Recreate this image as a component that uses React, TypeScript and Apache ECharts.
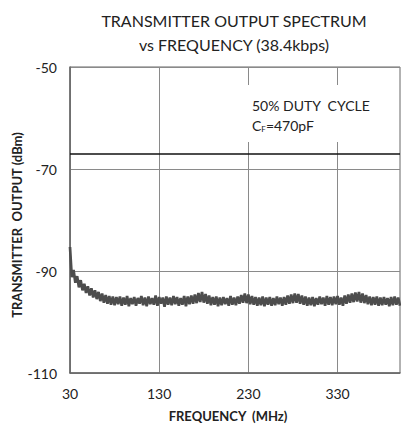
import React, { useEffect, useRef } from "react";
import * as echarts from "echarts";

const TITLE_LINES = ["TRANSMITTER OUTPUT SPECTRUM", "vs FREQUENCY (38.4kbps)"];
const X_TICKS = [30, 130, 230, 330];
const Y_TICKS = [-110, -90, -70, -50];
const X_NAME = "FREQUENCY  (MHz)";
const Y_NAME = "TRANSMITTER  OUTPUT (dBm)";
const NOTE_LINE1 = "50% DUTY  CYCLE";
const LIMIT_DBM = -67;

// sweep: 30 MHz to 400 MHz, 2 MHz per reading
const FREQ_START = 30;
const FREQ_STEP = 2;
const OUTPUT_DBM = [
  -85.3, -91.2, -89.8, -92.3, -91.0, -93.2, -91.8, -93.8, -92.5, -94.3,
  -93.0, -94.8, -93.4, -95.2, -93.8, -95.5, -94.1, -95.9, -94.4, -96.2,
  -94.7, -96.4, -94.9, -96.6, -95.0, -96.7, -95.1, -96.5, -95.0, -96.8,
  -95.2, -96.6, -94.9, -96.9, -95.3, -96.5,
  -95.1, -96.8, -95.3, -96.4, -94.9, -96.7, -95.2, -96.9, -95.0, -96.5,
  -95.3, -96.6, -94.8, -96.8, -95.1, -96.4, -95.2, -97.0, -95.0, -96.6,
  -95.2, -96.7, -94.9, -96.5, -95.1, -96.8, -95.3, -96.6, -94.9, -96.9,
  -95.0, -96.5, -94.8, -96.4, -94.6, -96.3, -94.3, -96.1, -94.1, -96.2,
  -94.5, -96.4, -94.8, -96.7, -95.1, -96.6, -95.0, -96.9, -95.2, -96.7,
  -95.1, -96.5, -95.3, -96.8, -94.9, -96.6, -95.2, -96.7, -95.0, -96.4,
  -94.7, -96.2, -94.4, -96.3, -94.6, -96.5, -94.9, -96.6, -95.1, -96.8,
  -95.2, -96.7, -95.0, -96.9, -95.2, -96.6, -95.1, -96.8, -95.3, -96.7,
  -95.0, -96.5, -95.2, -96.8, -95.1, -96.6, -94.8, -96.4, -94.6, -96.3,
  -94.4, -96.2, -94.5, -96.4, -94.8, -96.6, -95.0, -96.8, -95.2, -96.7,
  -95.1, -96.9, -95.3, -96.6, -95.0, -96.5, -95.2, -96.8, -94.9, -96.6,
  -95.1, -96.7, -95.0, -96.5, -94.9, -96.6, -95.2, -96.8, -94.8, -96.4,
  -94.6, -96.2, -94.4, -96.1, -94.2, -96.0, -94.1, -96.2, -94.4, -96.3,
  -94.7, -96.5, -95.0, -96.7, -95.1, -96.6, -95.0, -96.8, -95.2, -96.7,
  -95.1, -96.6, -95.3, -96.9, -95.1, -96.7, -95.0, -96.6, -95.2, -96.8,
];

const FONT = "Lato, 'Open Sans', sans-serif";

export default function App() {
  const ref = useRef<HTMLDivElement>(null);
  useEffect(() => {
    if (!ref.current) return;
    const chart = echarts.init(ref.current, undefined, { renderer: "svg" });
    const data = OUTPUT_DBM.map((v, i) => [FREQ_START + i * FREQ_STEP, v]);
    chart.setOption({
      animation: false,
      backgroundColor: "#ffffff",
      textStyle: { fontFamily: FONT },
      grid: {
        left: 70,
        top: 67,
        right: 1,
        bottom: 54,
        show: true,
        borderColor: "#666666",
        borderWidth: 1,
      },
      xAxis: {
        type: "value",
        min: 30,
        max: 400,
        axisLine: { show: true, lineStyle: { color: "#666666", width: 1.5 } },
        axisTick: { show: false, customValues: X_TICKS },
        axisLabel: {
          customValues: X_TICKS,
          color: "#222222",
          fontSize: 14,
          fontFamily: FONT,
          margin: 13,
        },
        splitLine: { show: true, lineStyle: { color: "#8a8a8a", width: 1 } },
      },
      yAxis: {
        type: "value",
        min: -110,
        max: -50,
        axisLine: { show: true, lineStyle: { color: "#666666", width: 1.5 } },
        axisTick: { show: false, customValues: Y_TICKS },
        axisLabel: {
          customValues: Y_TICKS,
          color: "#222222",
          fontSize: 14,
          fontFamily: FONT,
          margin: 13,
        },
        splitLine: { show: true, lineStyle: { color: "#8a8a8a", width: 1 } },
      },
      series: [
        {
          type: "line",
          data,
          showSymbol: false,
          symbol: "none",
          lineStyle: { color: "#4d4d4d", width: 2.7 },
          z: 3,
          markLine: {
            silent: true,
            symbol: "none",
            label: { show: false },
            lineStyle: { color: "#111111", width: 1.5, type: "solid" },
            data: [{ yAxis: LIMIT_DBM }],
            z: 4,
          },
        },
      ],
      graphic: [
        {
          type: "text",
          x: 234,
          y: 8,
          style: {
            text: TITLE_LINES.join("\n"),
            align: "center",
            fontFamily: FONT,
            fontSize: 16,
            lineHeight: 24,
            fill: "#222222",
          },
        },
        {
          type: "rect",
          z: 1,
          shape: { x: 243, y: 85, width: 124, height: 57 },
          style: { fill: "#ffffff" },
        },
        {
          type: "text",
          z: 2,
          x: 252,
          y: 95,
          style: {
            text: NOTE_LINE1 + "\nC{sub|F}=470pF",
            fontFamily: FONT,
            fontSize: 14,
            lineHeight: 20,
            fill: "#222222",
            rich: {
              sub: { fontSize: 8, fontFamily: FONT, fill: "#222222", padding: [7, 0, 0, 0] },
            },
          },
        },
        {
          type: "text",
          x: 228,
          y: 416,
          style: {
            text: X_NAME,
            align: "center",
            verticalAlign: "middle",
            fontFamily: FONT,
            fontWeight: "bold",
            fontSize: 13,
            fill: "#222222",
          },
        },
        {
          type: "text",
          x: 17,
          y: 225,
          rotation: Math.PI / 2,
          style: {
            text: Y_NAME,
            align: "center",
            verticalAlign: "middle",
            fontFamily: FONT,
            fontWeight: "bold",
            fontSize: 13,
            fill: "#222222",
          },
        },
      ],
    });
    return () => chart.dispose();
  }, []);
  return (
    <div
      ref={ref}
      style={{ position: "fixed", left: 0, top: 0, width: 401, height: 427 }}
    />
  );
}
